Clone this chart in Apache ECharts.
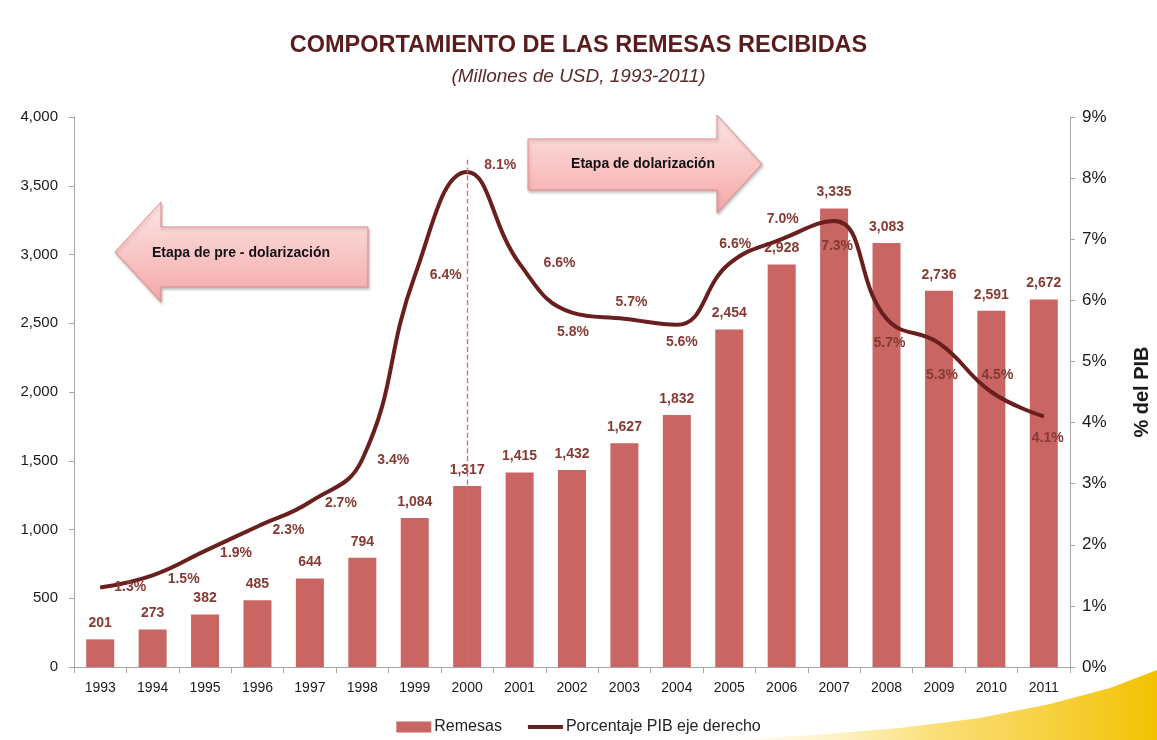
<!DOCTYPE html>
<html>
<head>
<meta charset="utf-8">
<title>Remesas</title>
<script src="https://cdn.jsdelivr.net/npm/echarts@6/dist/echarts.min.js"></script>
<style>
    html, body { margin: 0; padding: 0; background: #fff; }
    #main { width: 1157px; height: 740px; }
</style>
</head>
<body>
<div id="main"></div>
<script>
var years = ['1993', '1994', '1995', '1996', '1997', '1998', '1999', '2000', '2001', '2002',
    '2003', '2004', '2005', '2006', '2007', '2008', '2009', '2010', '2011'];
var remesas = [201, 273, 382, 485, 644, 794, 1084, 1317, 1415, 1432,
    1627, 1832, 2454, 2928, 3335, 3083, 2736, 2591, 2672];
var pctPib = [1.3, 1.5, 1.9, 2.3, 2.7, 3.4, 6.4, 8.1, 6.6, 5.8,
    5.7, 5.6, 6.6, 7.0, 7.3, 5.7, 5.3, 4.5, 4.1];
// where each % label sits relative to its point (px)
var pctLabelOffset = [[30, 0], [31, 4], [31, 2], [31, 4], [31, 1], [31, 1], [31, -1], [33, -7], [40, -1], [1, 20],
    [7, -17], [5, 17], [6, -20], [1, -20], [3, 25], [3, 24], [3, 32], [6, -17], [4, 22]];

var font = "'Liberation Sans', Arial, sans-serif";
var labelColor = '#873a33';

function fmtNum(v) {
    return String(v).replace(/\B(?=(\d{3})+(?!\d))/g, ',');
}

var myChart = echarts.init(document.getElementById('main'));

var pctData = pctPib.map(function (v, i) {
    return {
        value: v,
        label: {
            offset: pctLabelOffset[i]
        }
    };
});

var arrowFill = new echarts.graphic.LinearGradient(0, 0, 0, 1, [
    { offset: 0, color: '#fde6e6' },
    { offset: 1, color: '#f4a7a7' }
]);

var option = {
    backgroundColor: '#fff',
    textStyle: { fontFamily: font },
    title: {
        text: 'COMPORTAMIENTO DE LAS REMESAS RECIBIDAS',
        subtext: '(Millones de USD, 1993-2011)',
        left: 'center',
        top: 29,
        itemGap: 9,
        textStyle: {
            fontFamily: font,
            fontSize: 23.5,
            fontWeight: 'bold',
            color: '#5a1c1c'
        },
        subtextStyle: {
            fontFamily: font,
            fontSize: 19,
            fontStyle: 'italic',
            color: '#5a2a2a'
        }
    },
    legend: {
        bottom: 0,
        left: 'center',
        itemWidth: 35,
        itemHeight: 11,
        itemGap: 26,
        textStyle: { fontSize: 16, color: '#222', fontFamily: font, padding: [0, 0, 0, -2] },
        data: [
            { name: 'Remesas', icon: 'rect' },
            { name: 'Porcentaje PIB eje derecho', icon: 'path://M0,0 H35 V4 H0 Z' }
        ]
    },
    grid: {
        left: 74,
        right: 87,
        top: 117,
        bottom: 73,
        outerBoundsMode: 'none'
    },
    xAxis: {
        type: 'category',
        data: years,
        axisLine: { lineStyle: { color: '#a6a6a6', width: 1 } },
        axisTick: { show: true, length: 6, alignWithLabel: false, lineStyle: { color: '#a6a6a6' } },
        axisLabel: { color: '#1a1a1a', fontSize: 14, margin: 14, fontFamily: font },
        splitLine: { show: false }
    },
    yAxis: [{
        type: 'value',
        min: 0,
        max: 4000,
        interval: 500,
        axisLine: { show: true, lineStyle: { color: '#a6a6a6', width: 1 } },
        axisTick: { show: true, length: 5, lineStyle: { color: '#a6a6a6' } },
        axisLabel: {
            color: '#1a1a1a',
            fontSize: 15,
            margin: 16,
            fontFamily: font,
            formatter: function (v) { return fmtNum(v); }
        },
        splitLine: { show: false }
    }, {
        type: 'value',
        min: 0,
        max: 9,
        interval: 1,
        name: '% del PIB',
        nameLocation: 'middle',
        nameGap: 62,
        nameRotate: 90,
        nameTextStyle: { fontSize: 20, fontWeight: 'bold', color: '#1a1a1a', fontFamily: font },
        axisLine: { show: true, lineStyle: { color: '#a6a6a6', width: 1 } },
        axisTick: { show: true, length: 5, lineStyle: { color: '#a6a6a6' } },
        axisLabel: {
            color: '#1a1a1a',
            fontSize: 17,
            margin: 12,
            fontFamily: font,
            formatter: '{value}%'
        },
        splitLine: { show: false }
    }],
    series: [{
        name: 'Remesas',
        type: 'bar',
        data: remesas,
        barWidth: 28,
        itemStyle: { color: '#c96563' },
        label: {
            show: true,
            position: 'top',
            distance: 9,
            color: labelColor,
            fontSize: 14,
            fontWeight: 'bold',
            fontFamily: font,
            formatter: function (p) { return fmtNum(p.value); }
        },
        markLine: {
            silent: true,
            symbol: 'none',
            label: { show: false },
            emphasis: { disabled: true },
            lineStyle: { color: '#d0706e', type: 'dashed', width: 1.3 },
            data: [[{ coord: ['2000', 3690] }, { coord: ['2000', 0] }]]
        },
        z: 2
    }, {
        name: 'Porcentaje PIB eje derecho',
        type: 'line',
        yAxisIndex: 1,
        data: pctData,
        smooth: 0.45,
        symbol: 'circle',
        symbolSize: 1,
        itemStyle: { color: '#6a1f1f' },
        lineStyle: { color: '#6a1f1f', width: 4 },
        label: {
            show: true,
            position: 'inside',
            color: labelColor,
            fontSize: 14,
            fontWeight: 'bold',
            fontFamily: font,
            formatter: function (p) { return p.value.toFixed(1) + '%'; }
        },
        z: 3
    }],
    graphic: [{
        // yellow swoosh bottom right
        type: 'polygon',
        z: -10,
        shape: {
            points: [[700, 740], [800, 736], [900, 728], [980, 718], [1050, 704], [1110, 688], [1157, 670], [1157, 740]]
        },
        style: {
            fill: new echarts.graphic.LinearGradient(0, 0, 1, 0, [
                { offset: 0, color: 'rgba(255,240,190,0)' },
                { offset: 0.5, color: 'rgba(250,215,90,0.8)' },
                { offset: 1, color: '#f2c200' }
            ])
        }
    }, {
        // pre-dollarization arrow (left)
        type: 'polygon',
        z: 10,
        shape: {
            points: [[115, 252], [161, 202], [161, 227], [368, 227], [368, 287], [161, 287], [161, 302]]
        },
        style: {
            fill: arrowFill,
            stroke: '#e38b8b',
            lineWidth: 1,
            shadowBlur: 3,
            shadowColor: 'rgba(0,0,0,0.25)',
            shadowOffsetX: 1,
            shadowOffsetY: 2
        }
    }, {
        type: 'text',
        z: 11,
        x: 241,
        y: 253,
        style: {
            text: 'Etapa de pre - dolarización',
            fontSize: 14,
            fontWeight: 'bold',
            fontFamily: font,
            fill: '#111',
            align: 'center',
            verticalAlign: 'middle'
        }
    }, {
        // dollarization arrow (right)
        type: 'polygon',
        z: 10,
        shape: {
            points: [[528, 139], [717, 139], [717, 115], [762, 164], [717, 213], [717, 190], [528, 190]]
        },
        style: {
            fill: arrowFill,
            stroke: '#e38b8b',
            lineWidth: 1,
            shadowBlur: 3,
            shadowColor: 'rgba(0,0,0,0.25)',
            shadowOffsetX: 1,
            shadowOffsetY: 2
        }
    }, {
        type: 'text',
        z: 11,
        x: 643,
        y: 164,
        style: {
            text: 'Etapa de dolarización',
            fontSize: 14,
            fontWeight: 'bold',
            fontFamily: font,
            fill: '#111',
            align: 'center',
            verticalAlign: 'middle'
        }
    }]
};

myChart.setOption(option);
</script>
</body>
</html>
